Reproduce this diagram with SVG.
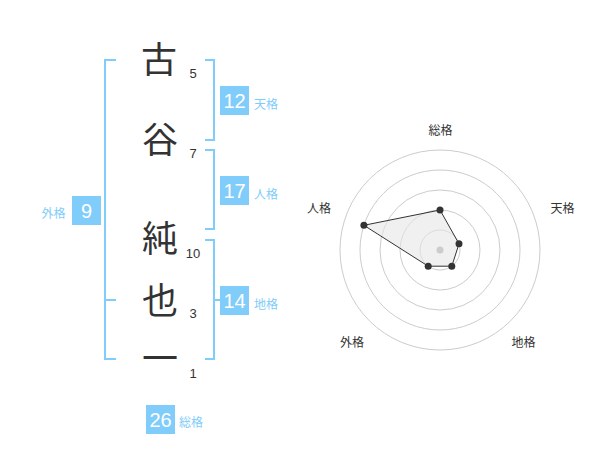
<svg xmlns="http://www.w3.org/2000/svg" width="600" height="470" viewBox="0 0 600 470">
<style>
.ch{font-family:"Noto Sans CJK JP","Noto Sans CJK SC",sans-serif;font-size:36px;fill:#333;text-anchor:middle}
.num{font-family:"Liberation Sans",Arial,sans-serif;font-size:13px;fill:#333;text-anchor:middle}
.box{fill:#80ccfa}
.bn{font-family:"Liberation Sans",Arial,sans-serif;font-size:20px;fill:#fff;text-anchor:middle}
.lb{font-family:"Noto Sans CJK JP","Noto Sans CJK SC",sans-serif;font-size:12px;fill:#80ccfa}
.br{fill:none;stroke:#80ccfa;stroke-width:2}
.ring{fill:none;stroke:#ccc;stroke-width:1}
.rl{font-family:"Noto Sans CJK JP","Noto Sans CJK SC",sans-serif;font-size:12px;fill:#333;text-anchor:middle}
.pt{fill:#333}
</style>
<rect width="600" height="470" fill="#fff"/>
<g id="connectors">
<path class="br" d="M116,60 H105 V359 H116 M105,300 H116"/>
<path class="br" d="M205,60 H214 V140 H205"/>
<path class="br" d="M205,150 H214 V229 H205"/>
<path class="br" d="M205,240 H214 V359 H205 M214,300 H220"/>
</g>
<g id="chars">
<text class="ch" x="159" y="73">古</text>
<text class="ch" x="160" y="153">谷</text>
<text class="ch" x="160" y="252">純</text>
<text class="ch" x="160" y="314">也</text>
<text class="ch" x="160" y="372">一</text>
</g>
<g id="strokes">
<text class="num" x="193" y="78">5</text>
<text class="num" x="193" y="158">7</text>
<text class="num" x="193" y="258">10</text>
<text class="num" x="193" y="318">3</text>
<text class="num" x="193" y="378">1</text>
</g>
<g id="tenkaku">
<rect class="box" x="220" y="86" width="29" height="29"/>
<text class="bn" x="234.5" y="107.5">12</text>
<text class="lb" x="254" y="108.5">天格</text>
</g>
<g id="jinkaku">
<rect class="box" x="220" y="176" width="29" height="29"/>
<text class="bn" x="234.5" y="197.5">17</text>
<text class="lb" x="254" y="198.5">人格</text>
</g>
<g id="chikaku">
<rect class="box" x="220" y="286" width="29" height="29"/>
<text class="bn" x="234.5" y="307.5">14</text>
<text class="lb" x="254" y="308.5">地格</text>
</g>
<g id="gaikaku">
<rect class="box" x="72" y="196" width="29" height="29"/>
<text class="bn" x="86.5" y="217.5">9</text>
<text class="lb" x="41.5" y="217.5">外格</text>
</g>
<g id="soukaku">
<rect class="box" x="146" y="405" width="29" height="29"/>
<text class="bn" x="160.5" y="426.5">26</text>
<text class="lb" x="179" y="427">総格</text>
</g>
<g id="radar">
<circle class="ring" cx="440" cy="250" r="20"/>
<circle class="ring" cx="440" cy="250" r="40"/>
<circle class="ring" cx="440" cy="250" r="60"/>
<circle class="ring" cx="440" cy="250" r="80"/>
<circle class="ring" cx="440" cy="250" r="100"/>
<polygon points="440,210 459,243.8 451.8,266.2 428.2,266.2 363.9,225.3" fill="#e6e6e6" fill-opacity="0.6" stroke="#333" stroke-width="1"/>
<circle cx="440" cy="250" r="3.5" fill="#ccc"/>
<circle class="pt" cx="440" cy="210" r="3.5"/>
<circle class="pt" cx="459" cy="243.8" r="3.5"/>
<circle class="pt" cx="451.8" cy="266.2" r="3.5"/>
<circle class="pt" cx="428.2" cy="266.2" r="3.5"/>
<circle class="pt" cx="363.9" cy="225.3" r="3.5"/>
<text class="rl" x="440.5" y="135">総格</text>
<text class="rl" x="562.5" y="212.5">天格</text>
<text class="rl" x="523.5" y="347">地格</text>
<text class="rl" x="352" y="347">外格</text>
<text class="rl" x="319" y="212.5">人格</text>
</g>
</svg>
